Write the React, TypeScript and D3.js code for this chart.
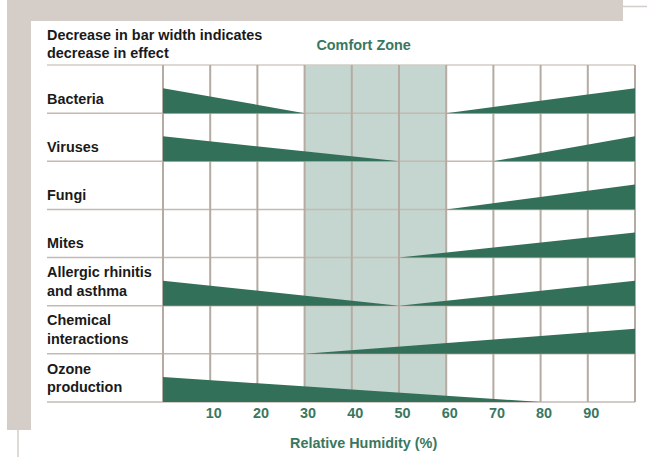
import React from 'react';
import * as d3 from 'd3';

// humidity where each effect fades out (left) and where it starts rising again (right)
const categories = [
  ['Bacteria'],
  ['Viruses'],
  ['Fungi'],
  ['Mites'],
  ['Allergic rhinitis', 'and asthma'],
  ['Chemical', 'interactions'],
  ['Ozone', 'production'],
];
const leftEnds: (number | null)[] = [30, 50, null, null, 50, null, 80];
const rightStarts: (number | null)[] = [60, 70, 60, 50, 50, 30, null];
const comfortZone = [30, 60];
const ticks = [10, 20, 30, 40, 50, 60, 70, 80, 90];

const W = 647;
const H = 457;
const beige = '#d5cdc7';
const grid = '#b5aba2';
const barColor = '#33705a';
const green = '#3a7760';
const font = "'Liberation Sans', Arial, sans-serif";
const squeeze = 0.93; // the original uses a condensed face

// condensed-looking text: squeeze horizontally around its anchor point
const Txt = ({ x, y, lines, anchor = 'start', fill = '#1a1a1a', lh = 19 }: {
  x: number; y: number; lines: string[]; anchor?: string; fill?: string; lh?: number;
}) => (
  <text transform={`translate(${x},${y}) scale(${squeeze},1)`} textAnchor={anchor}
    fontSize={15.5} fontWeight="bold" fill={fill}>
    {lines.map((t, j) => (
      <tspan key={j} x={0} y={j * lh}>{t}</tspan>
    ))}
  </text>
);

const App = () => {
  const x = d3.scaleLinear().domain([0, 100]).range([163, 635]);
  const y = d3.scaleBand<number>().domain(d3.range(categories.length)).range([65, 402]);
  const w = d3.scaleLinear().domain([0, 1]).range([0, 25]);

  const labelX = 47;
  const lineRight = x(100);

  const wedge = (row: number) =>
    d3.area<[number, number]>()
      .x(d => x(d[0]))
      .y0(y(row)! + y.bandwidth())
      .y1(d => y(row)! + y.bandwidth() - w(d[1]));

  return (
    <svg width={W} height={H} style={{ position: 'absolute', left: 0, top: 0, fontFamily: font }}>
      <rect x={0} y={0} width={W} height={H} fill="#fff" />
      {/* frame */}
      <rect x={7} y={0} width={616} height={21} fill={beige} />
      <rect x={7} y={0} width={24} height={430} fill={beige} />
      <line x1={623} x2={W} y1={6.5} y2={6.5} stroke={beige} strokeWidth={1.5} />
      <line x1={18} x2={18} y1={430} y2={H} stroke={beige} strokeWidth={1.5} />

      {/* comfort zone */}
      <rect
        x={x(comfortZone[0])}
        y={y.range()[0]}
        width={x(comfortZone[1]) - x(comfortZone[0])}
        height={y.range()[1] - y.range()[0]}
        fill="#c5d5cf"
      />

      {/* horizontal row lines */}
      {d3.range(categories.length + 1).map(i => {
        const yy = i === categories.length ? y.range()[1] : y(i)!;
        return (
          <line key={'h' + i} x1={labelX} x2={lineRight} y1={yy} y2={yy}
            stroke={i === 0 ? '#d3cbc4' : '#c4bab2'} strokeWidth={1.5} />
        );
      })}

      {/* vertical grid */}
      {d3.range(0, 101, 10).map(v => (
        <line key={'v' + v} x1={x(v)} x2={x(v)} y1={y.range()[0]} y2={y.range()[1]}
          stroke={grid} strokeWidth={2} />
      ))}

      {/* wedges */}
      {categories.map((_, i) => (
        <g key={'w' + i} fill={barColor}>
          {leftEnds[i] != null && (
            <path d={wedge(i)([[0, 1], [leftEnds[i]!, 0]])!} />
          )}
          {rightStarts[i] != null && (
            <path d={wedge(i)([[rightStarts[i]!, 0], [100, 1]])!} />
          )}
        </g>
      ))}

      {/* row labels */}
      {categories.map((lines, i) => {
        const bottom = y(i)! + y.bandwidth();
        return (
          <Txt key={'l' + i} x={labelX} y={bottom - 9.5 - (lines.length - 1) * 19} lines={lines} />
        );
      })}

      {/* header */}
      <Txt x={labelX} y={40} lines={['Decrease in bar width indicates', 'decrease in effect']} lh={18} />
      <Txt x={x(42.5)} y={50} lines={['Comfort Zone']} anchor="middle" fill={green} />

      {/* x axis */}
      {ticks.map(t => (
        <Txt key={'t' + t} x={x(t) + 3.5} y={418} lines={[String(t)]} anchor="middle" fill={green} />
      ))}
      <Txt x={x(42.5)} y={448} lines={['Relative Humidity (%)']} anchor="middle" fill={green} />
    </svg>
  );
};

export default App;
